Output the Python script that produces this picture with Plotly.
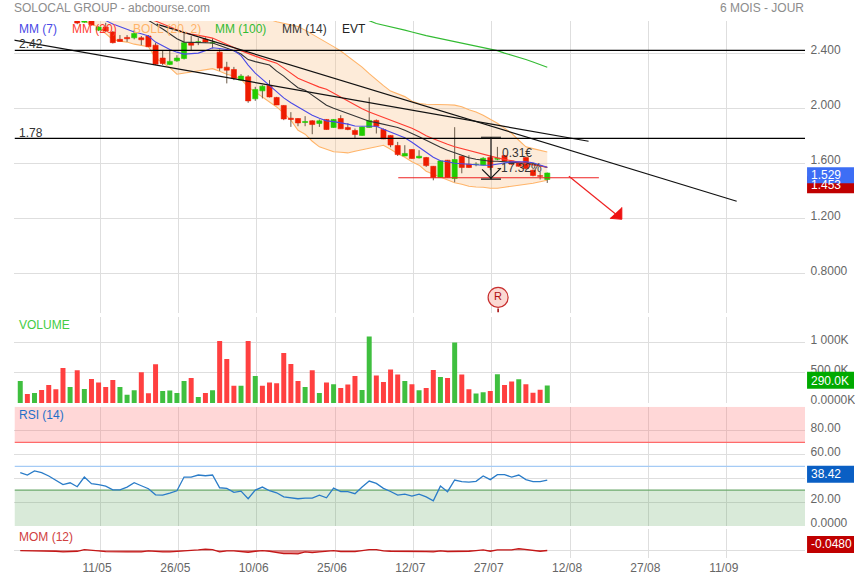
import plotly.graph_objects as go

W, H = 855, 580
PLOT_H = 575

# ---------- data ----------
opens = [2.90,2.93,2.88,2.92,2.87,2.82,2.78,2.71,2.66,2.625,2.655,2.567,2.589,2.553,2.500,2.514,2.511,2.511,2.524,2.458,
         2.364,2.318,2.344,2.361,2.475,2.480,2.500,2.473,2.407,2.298,2.281,2.204,2.228,2.068,2.126,2.165,2.078,2.020,1.927,1.925,
         1.896,1.908,1.889,1.918,1.860,1.925,1.860,1.838,1.802,1.860,1.911,1.845,1.802,1.729,1.653,1.700,1.639,1.641,1.578,1.496,
         1.622,1.489,1.651,1.593,1.590,1.588,1.641,1.629,1.656,1.617,1.607,1.641,1.549,1.510,1.482]
closes = [2.93,2.88,2.92,2.87,2.82,2.78,2.72,2.74,2.618,2.655,2.604,2.589,2.56,2.476,2.485,2.504,2.543,2.497,2.446,2.320,
          2.325,2.340,2.364,2.475,2.458,2.482,2.480,2.475,2.291,2.276,2.216,2.233,2.053,2.136,2.160,2.082,2.024,1.922,1.918,1.893,
          1.903,1.881,1.908,1.845,1.918,1.850,1.845,1.809,1.864,1.911,1.869,1.777,1.733,1.663,1.671,1.634,1.651,1.583,1.496,1.617,
          1.496,1.627,1.569,1.569,1.593,1.636,1.569,1.636,1.617,1.593,1.578,1.561,1.511,1.505,1.529]
highs = [2.95,2.95,2.94,2.93,2.89,2.84,2.80,2.76,2.68,2.67,2.66,2.595,2.62,2.56,2.531,2.531,2.567,2.524,2.531,2.475,
         2.422,2.417,2.385,2.548,2.524,2.509,2.514,2.509,2.427,2.337,2.300,2.247,2.240,2.155,2.167,2.204,2.082,2.022,1.971,1.927,
         1.942,1.913,1.918,1.920,1.920,1.949,1.891,1.852,1.866,2.078,1.918,1.852,1.804,1.755,1.731,1.702,1.695,1.646,1.580,1.620,
         1.624,1.862,1.653,1.658,1.607,1.644,1.658,1.719,1.660,1.62,1.61,1.65,1.555,1.537,1.532]
lows = [2.88,2.86,2.86,2.85,2.80,2.76,2.70,2.69,2.61,2.62,2.60,2.56,2.555,2.47,2.485,2.482,2.500,2.458,2.446,2.313,
        2.313,2.313,2.337,2.354,2.417,2.458,2.475,2.434,2.271,2.180,2.204,2.199,2.039,2.053,2.071,2.078,2.022,1.913,1.864,1.869,
        1.869,1.811,1.864,1.844,1.858,1.850,1.840,1.782,1.800,1.859,1.816,1.775,1.716,1.653,1.651,1.632,1.634,1.573,1.476,1.494,
        1.494,1.462,1.527,1.567,1.578,1.586,1.55,1.622,1.615,1.59,1.575,1.555,1.505,1.482,1.457]

boll_up = [3.45,3.44,3.43,3.42,3.41,3.40,3.38,3.36,3.34,3.32,3.30,3.28,3.26,3.24,3.22,3.20,3.17,3.14,3.11,3.08,
           3.05,3.02,2.99,2.96,2.93,2.90,2.87,2.84,2.81,2.78,2.75,2.72,2.70,2.68,2.66,2.645,2.628,2.618,2.607,2.593,
           2.567,2.538,2.509,2.480,2.447,2.415,2.375,2.335,2.298,2.251,2.204,2.164,2.124,2.106,2.084,2.051,2.033,2.029,2.029,2.027,
           2.025,2.022,2.011,1.989,1.973,1.949,1.920,1.891,1.855,1.818,1.767,1.719,1.706,1.695,1.682]
boll_lo = [2.95,2.93,2.90,2.87,2.82,2.77,2.72,2.69,2.647,2.629,2.611,2.586,2.545,2.498,2.487,2.480,2.465,2.458,2.447,2.364,
           2.327,2.295,2.247,2.255,2.262,2.269,2.276,2.287,2.269,2.247,2.233,2.211,2.153,2.116,2.080,2.044,2.009,1.964,1.913,1.840,
           1.811,1.760,1.719,1.702,1.684,1.680,1.675,1.687,1.698,1.709,1.716,1.731,1.702,1.669,1.644,1.611,1.586,1.542,1.520,1.498,
           1.476,1.458,1.447,1.433,1.428,1.426,1.418,1.418,1.426,1.433,1.436,1.444,1.455,1.466,1.476]

mm7 = [None]*11 + [2.676,2.636,2.611,2.591,2.571,2.553,2.540,2.524,2.480,2.451,2.426,2.407,2.393,2.396,2.400,2.418,2.439,2.433,2.427,
       2.418,2.382,2.313,2.255,2.211,2.164,2.116,2.075,2.040,2.011,1.978,1.949,1.927,1.908,1.902,1.895,1.884,1.871,1.869,1.869,
       1.869,1.847,1.825,1.806,1.785,1.753,1.719,1.680,1.644,1.618,1.611,1.600,1.596,1.591,1.586,1.586,1.586,1.593,1.600,1.610,
       1.610,1.610,1.604,1.586,1.571]
mm20 = [None]*16 + [2.698,2.673,2.647,2.633,2.611,2.589,2.567,2.549,2.538,2.531,2.520,2.509,2.484,2.462,2.440,2.418,2.396,2.378,2.360,
        2.342,2.327,2.291,2.255,2.218,2.196,2.175,2.153,2.138,2.109,2.080,2.051,2.022,1.996,1.973,1.953,1.935,1.916,1.895,1.873,
        1.855,1.829,1.800,1.778,1.756,1.738,1.720,1.706,1.691,1.676,1.662,1.651,1.639,1.628,1.617,1.606,1.597,1.588,1.580,1.571]
mm14 = [None]*17 + [2.669,2.640,2.607,2.575,2.538,2.505,2.480,2.478,2.476,2.474,2.473,2.455,2.436,2.418,2.393,2.353,2.338,2.324,2.313,
        2.269,2.233,2.189,2.149,2.131,2.095,2.058,2.022,2.000,1.982,1.964,1.945,1.924,1.905,1.895,1.884,1.873,1.860,1.840,1.818,
        1.793,1.767,1.740,1.716,1.695,1.676,1.658,1.640,1.629,1.620,1.615,1.614,1.612,1.610,1.604,1.600,1.594,1.582,1.569]
mm100 = [None]*48 + [2.647,2.636,2.615,2.604,2.593,2.582,2.567,2.553,2.538,2.527,2.516,2.505,2.495,2.484,2.473,2.462,2.451,2.444,2.433,
         2.418,2.400,2.385,2.371,2.353,2.335,2.316,2.298]

volume_k = [367,150,167,217,300,228,583,267,544,233,400,339,267,383,267,139,211,511,161,644,
            200,206,167,367,417,100,167,211,1033,733,289,289,1033,450,289,339,328,833,650,367,
            267,544,167,339,311,250,306,450,217,1106,456,350,556,472,367,311,211,250,550,433,
            417,1006,472,228,156,178,200,478,300,356,394,311,172,222,290]
volume_dir = list("GRGRRRRGRGRRRRGGGRRRGGGGRGRGRRRGRGRRRRRR"
                  "GRGRGRRRGGRRRRGRGRRGRGRRGGRGRRGRRRG")

rsi = [44.7,42.7,46.1,44.7,41.9,38.5,34.6,36.2,32.9,41.0,35.4,34.6,33.4,30.3,30.3,32.6,36.2,33.7,31.2,26.1,
       25.8,27.5,29.5,41.0,41.0,42.7,42.1,42.7,32.0,31.5,28.1,29.2,22.8,30.0,32.6,29.5,27.8,24.4,23.6,22.8,
       23.3,23.3,25.8,23.6,31.7,28.7,28.7,27.0,32.6,37.6,35.7,31.5,28.9,25.8,26.7,25.0,26.7,24.4,21.1,33.4,
       28.7,38.5,37.1,36.8,37.4,41.9,38.8,43.0,43.0,41.0,42.7,38.8,37.1,37.1,38.42]

mom = [-.06,-.06,-.06,-.06,-.06,-.18,-.30,-.30,-.18,.12,-.06,-.12,-.24,-.30,-.30,-.30,-.30,-.30,-.12,-.24,
       -.30,-.30,-.24,-.18,-.06,.06,.18,.12,-.30,-.12,-.12,-.18,-.36,-.18,-.06,-.18,-.36,-.60,-.60,-.66,
       -.30,-.42,-.30,-.24,-.06,-.24,-.24,-.24,-.06,.12,.12,-.12,-.18,-.18,-.18,-.12,-.24,-.24,-.30,-.12,
       -.24,-.24,-.24,-.18,-.06,.06,-.18,.06,.06,.06,.30,.18,.06,-.18,-.048]

date_ticks = ["11/05", "26/05", "10/06", "25/06", "12/07", "27/07", "12/08", "27/08", "11/09"]
date_pos = [11.2, 22.2, 33.2, 44.2, 55.2, 66.2, 77.2, 88.2, 99.2]

price_ticks = [2.4, 2.0, 1.6, 1.2, 0.8]
price_labels = ["2.400", "2.000", "1.600", "1.200", "0.8000"]
vol_ticks = [0, 500, 1000]
vol_labels = ["0.0000K", "500.0K", "1 000K"]
rsi_ticks = [0, 20, 40, 60, 80]
rsi_labels = ["0.0000", "20.00", "40.00", "60.00", "80.00"]

# drawn objects, in (bar index, price)
trend_a_x, trend_a_y = [-0.9, 79.8], [2.495, 1.760]
trend_b_x, trend_b_y = [19.15, 100.6], [2.611, 1.324]
level_x, level_y = [-0.8, 110.2], [2.42, 1.78]
sup_x, sup_y = [53.08, 81.25], [1.4946, 1.4946]
arrow_x, arrow_y = [77.04, 84.33], [1.505, 1.200]
head_x, head_y = [84.47, 84.47, 82.8], [1.280, 1.193, 1.200]
meas_x, meas_top, meas_bot = 66.1, 1.789, 1.484
bar_l, bar_r = 64.7, 67.5
vee_x, vee_y = [64.85, 66.1, 67.5], [1.556, 1.491, 1.564]
r_x, r_y, r_tick = 67.1, 0.6255, [0.545, 0.516]

# ---------- colours ----------
GRID = "#dedede"
GREEN_C, RED_C = "#22cc00", "#ee1c00"
WICK = "#6a5a48"
n = len(closes)
idx = list(range(n))
XR = [-0.81, 110.2]


def py(px):
    return 1 - px / PLOT_H


fig = go.Figure()

# ---- price panel ----
fig.add_trace(go.Scatter(x=idx, y=boll_up, mode="lines", line=dict(color="#ffb469", width=1.1),
                         xaxis="x", yaxis="y", zorder=0, hoverinfo="skip"))
fig.add_trace(go.Scatter(x=idx, y=boll_lo, mode="lines", line=dict(color="#ffb469", width=1.1), fill="tonexty",
                         fillcolor="rgba(248,190,130,0.30)", xaxis="x", yaxis="y", zorder=0, hoverinfo="skip"))

wx, wy = [], []
for i in idx:
    wx += [i, i, None]
    wy += [highs[i], lows[i], None]
fig.add_trace(go.Scatter(x=wx, y=wy, mode="lines", line=dict(color=WICK, width=1), xaxis="x", yaxis="y", zorder=1))
fig.add_trace(go.Bar(x=idx, y=[c - o for o, c in zip(opens, closes)], base=opens, width=0.72,
                     marker=dict(color=[GREEN_C if c >= o else RED_C for o, c in zip(opens, closes)],
                                 line=dict(width=0.6, color=[GREEN_C if c >= o else RED_C for o, c in zip(opens, closes)])),
                     xaxis="x", yaxis="y", zorder=2))

for vals, col in [(mm14, "#333333"), (mm20, "#ff3b30"), (mm7, "#4a4ae6"), (mm100, "#33bb33")]:
    fig.add_trace(go.Scatter(x=idx, y=vals, mode="lines", line=dict(color=col, width=1.1), xaxis="x", yaxis="y", zorder=3))

for xs, ys, col, w in [
    (trend_a_x, trend_a_y, "#111111", 1.2),
    (trend_b_x, trend_b_y, "#111111", 1.2),
    (level_x, [level_y[0]] * 2, "#000000", 1.2),
    (level_x, [level_y[1]] * 2, "#000000", 1.2),
    (sup_x, sup_y, "#ee2222", 1.2),
    (arrow_x, arrow_y, "#ee2222", 1.2),
    ([meas_x, meas_x], [meas_top, meas_bot], "#111111", 1.2),
    ([bar_l, bar_r], [meas_top, meas_top], "#111111", 1.2),
    ([bar_l, bar_r], [meas_bot, meas_bot], "#111111", 1.2),
    (vee_x, vee_y, "#111111", 1.2),
    ([r_x, r_x], r_tick, "#a00000", 1.5),
]:
    fig.add_trace(go.Scatter(x=xs, y=ys, mode="lines", line=dict(color=col, width=w), xaxis="x", yaxis="y", zorder=4))

fig.add_trace(go.Scatter(x=head_x, y=head_y, mode="lines", fill="toself", fillcolor="#ee1111",
                         line=dict(color="#ee1111", width=1), xaxis="x", yaxis="y", zorder=4))
fig.add_trace(go.Scatter(x=[r_x], y=[r_y], mode="markers+text", text=["R"], textposition="middle center",
                         textfont=dict(color="#b01010", size=11, family="Liberation Sans"),
                         marker=dict(size=20, color="#fbd9d3", line=dict(color="#c83030", width=1.2)),
                         xaxis="x", yaxis="y", zorder=5))

# ---- volume panel ----
fig.add_trace(go.Bar(x=idx, y=volume_k, width=0.7,
                     marker=dict(color=["#3fbf3f" if d == "G" else "#ff4040" for d in volume_dir], line=dict(width=0)),
                     xaxis="x2", yaxis="y2"))

# ---- RSI panel ----
fig.add_trace(go.Scatter(x=XR, y=[100, 100], mode="lines", line=dict(width=0), xaxis="x3", yaxis="y3"))
fig.add_trace(go.Scatter(x=XR, y=[70, 70], mode="lines", line=dict(color="#ff6a6a", width=1.2), fill="tonexty",
                         fillcolor="rgba(255,110,110,0.28)", xaxis="x3", yaxis="y3"))
fig.add_trace(go.Scatter(x=XR, y=[50, 50], mode="lines", line=dict(color="#a5cbf5", width=1.2), xaxis="x3", yaxis="y3"))
fig.add_trace(go.Scatter(x=XR, y=[30, 30], mode="lines", line=dict(color="#6aa86a", width=1.2), xaxis="x3", yaxis="y3"))
fig.add_trace(go.Scatter(x=XR, y=[0, 0], mode="lines", line=dict(width=0), fill="tonexty",
                         fillcolor="rgba(90,165,90,0.23)", xaxis="x3", yaxis="y3"))
fig.add_trace(go.Scatter(x=idx, y=rsi, mode="lines", line=dict(color="#2a7cc8", width=1.3), xaxis="x3", yaxis="y3"))

# ---- MOM panel ----
fig.add_trace(go.Scatter(x=idx, y=mom, mode="lines", line=dict(color="#c41818", width=1.3), fill="tozeroy",
                         fillcolor="rgba(200,30,30,0.55)", xaxis="x4", yaxis="y4"))


def xaxis(show_labels=False, anchor="y"):
    return dict(domain=[14.5 / W, 806 / W], range=XR, anchor=anchor, tickmode="array", tickvals=date_pos,
                ticktext=date_ticks if show_labels else [""] * len(date_pos), showgrid=True, gridcolor=GRID,
                gridwidth=1.2, zeroline=False, showline=True, linecolor=GRID, linewidth=1.2, mirror=True, ticks="",
                tickfont=dict(color="#666666", size=12), ticklabelshift=-3 if show_labels else 0,
                ticklabelstandoff=-2 if show_labels else 0)


def yaxis(dom, rng, tv, tt, anchor):
    return dict(domain=[py(dom[1]), py(dom[0])], range=rng, anchor=anchor, side="right", tickmode="array",
                tickvals=tv, ticktext=tt, showgrid=True, gridcolor=GRID, gridwidth=1.2, zeroline=False,
                showline=True, linecolor=GRID, linewidth=1.2, mirror=True, ticks="",
                tickfont=dict(color="#666666", size=12), ticklabelshift=-3, ticklabelstandoff=2)


annos = []
boxes = []


def txt(x, y, s, col, size=12, xanchor="left"):
    annos.append(dict(x=x / W, y=py(y), xref="paper", yref="paper", text=s, showarrow=False, xanchor=xanchor,
                      yanchor="middle", font=dict(color=col, size=size), borderpad=0))


def tag(y0, y1, yt, s, bg):
    boxes.append(dict(type="rect", xref="paper", yref="paper", x0=808 / W, x1=1.0, y0=py(y1), y1=py(y0),
                      fillcolor=bg, line=dict(width=0), layer="above"))
    txt(810.5, yt, s, "white", 12)


txt(13, 8, "SOLOCAL GROUP - abcbourse.com", "#8c8c8c", 12)
txt(806, 8, "6 MOIS - JOUR", "#8c8c8c", 12, "right")
txt(18, 29, "MM (7)", "#4a4ae6")
txt(71, 29, "MM (20)", "#ff3b30")
txt(132, 29, "BOLL (20, 2)", "#ffb469")
txt(214, 29, "MM (100)", "#33bb33")
txt(281, 29, "MM (14)", "#333333")
txt(341, 29, "EVT", "#222222")
txt(18, 44, "2.42", "#333333")
txt(18, 133, "1.78", "#333333")
txt(502, 153, "0.31€", "#333333")
txt(497, 168, "-17.32%", "#333333")
txt(18, 324.5, "VOLUME", "#44cc44")
txt(18, 414.5, "RSI (14)", "#1e6fc8")
txt(18, 536.5, "MOM (12)", "#d04040")
tag(176, 193, 185, "1.453", "#c00000")
tag(167, 183, 175, "1.529", "#3d6ef5")
tag(371, 388, 380, "290.0K", "#00aa00")
tag(465, 482, 473, "38.42", "#0a5fc4")
tag(535, 552, 543.5, "-0.0480", "#c00000")

fig.update_layout(
    width=W, height=H, margin=dict(l=0, r=0, t=0, b=0), autosize=False, showlegend=False,
    paper_bgcolor="white", plot_bgcolor="white", barmode="overlay", hovermode=False,
    font=dict(family="Liberation Sans, Arial, sans-serif", size=12),
    xaxis=xaxis(anchor="y"), xaxis2=xaxis(anchor="y2"), xaxis3=xaxis(anchor="y3"), xaxis4=xaxis(True, "y4"),
    yaxis=yaxis((21, 312), [0.5155, 2.633], price_ticks, price_labels, "x"),
    yaxis2=yaxis((316, 402.3), [0, 1438], vol_ticks, vol_labels, "x2"),
    yaxis3=yaxis((406, 525), [0, 100], rsi_ticks, rsi_labels, "x3"),
    yaxis4=yaxis((528.3, 557.3), [-1.44, 3.78], [0], [""], "x4"),
    annotations=annos, shapes=boxes,
)

fig.write_html("out.html", config={"displayModeBar": False}, post_script="document.body.style.margin='0';")
